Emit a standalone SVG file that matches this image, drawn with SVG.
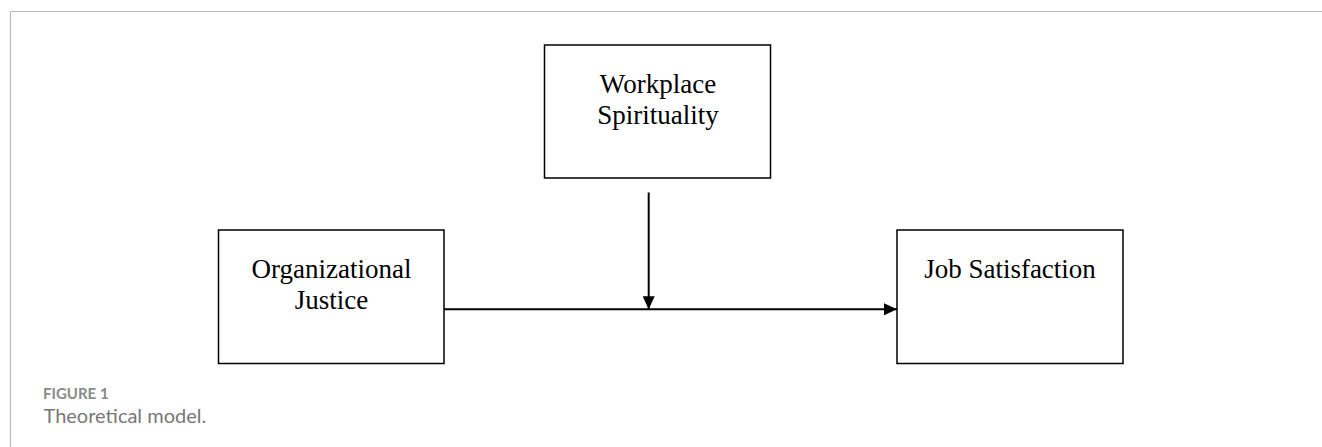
<svg xmlns="http://www.w3.org/2000/svg" width="1322" height="447" viewBox="0 0 1322 447">
<style>
.box{fill:#fff;stroke:#000;stroke-width:1.5}
.lbl{font-family:"Liberation Serif","Times New Roman",serif;font-size:27px;fill:#000;text-anchor:middle}
.conn{stroke:#000;stroke-width:2;fill:none}
.cap1{font-family:Lato,"Open Sans",sans-serif;font-size:15px;font-weight:bold;fill:#8a8a8a}
.cap2{font-family:Lato,"Open Sans",sans-serif;font-size:20px;fill:#777}
</style>
<defs>
<marker id="ah" viewBox="0 0 13 12" refX="13" refY="6" markerWidth="13" markerHeight="12" markerUnits="userSpaceOnUse" orient="auto">
<path d="M0,0 L13,6 L0,12 Z" fill="#000"/>
</marker>
</defs>
<rect x="0" y="0" width="1322" height="447" fill="#fff"/>
<path d="M10.5,460 V11.5 H1322" fill="none" stroke="#bbb" stroke-width="1.2"/>
<g id="node-oj">
<rect class="box" x="218.5" y="230" width="225.5" height="133.5"/>
<text class="lbl" x="331.5" y="277.5">Organizational</text>
<text class="lbl" x="331.5" y="309">Justice</text>
</g>
<g id="node-ws">
<rect class="box" x="544.5" y="45" width="226" height="133"/>
<text class="lbl" x="658" y="93">Workplace</text>
<text class="lbl" x="658" y="124">Spirituality</text>
</g>
<g id="node-js">
<rect class="box" x="897" y="230" width="226" height="133.5"/>
<text class="lbl" x="1010" y="277.5">Job Satisfaction</text>
</g>
<g id="connectors">
<line class="conn" x1="444" y1="309.3" x2="897" y2="309.3" marker-end="url(#ah)"/>
<line class="conn" x1="648.7" y1="192.5" x2="648.7" y2="309.3" marker-end="url(#ah)"/>
</g>
<g id="caption">
<text class="cap1" x="43" y="399">FIGURE 1</text>
<text class="cap2" x="43.5" y="423">Theoretical model.</text>
</g>
</svg>
